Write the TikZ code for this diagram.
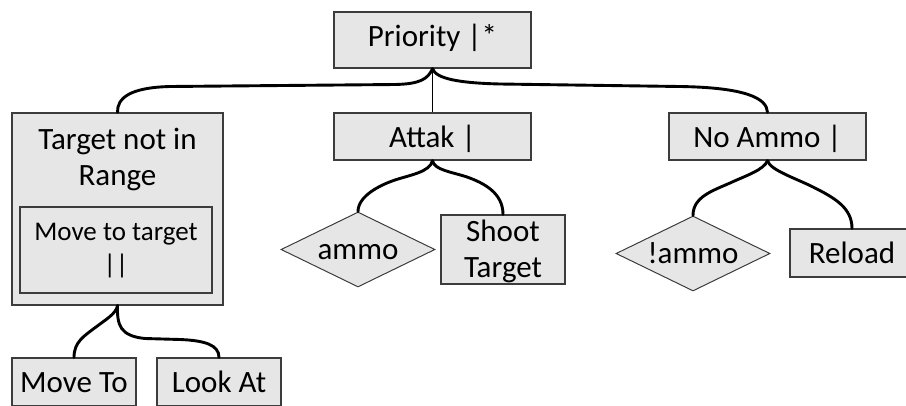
\documentclass[tikz,border=0pt]{standalone}
\usepackage{fontspec}
\setmainfont{Carlito}
\usetikzlibrary{shapes.geometric}
\definecolor{boxgray}{HTML}{E6E6E6}
\definecolor{edgegray}{HTML}{3C3C3C}
\tikzset{
  bigfont/.style={font=\fontsize{31}{36.7}\selectfont},
  smallfont/.style={font=\fontsize{27}{33}\selectfont},
  box/.style={draw=edgegray, line width=1.3pt, fill=boxgray, inner sep=0pt,
    bigfont, text height=20pt, text depth=0pt},
  mbox/.style={draw=edgegray, line width=1.3pt, fill=boxgray, inner sep=0pt},
  dia/.style={diamond, aspect=2, draw=edgegray, line width=1pt, fill=boxgray, inner sep=0pt,
    bigfont, text height=20pt, text depth=0pt,
    minimum width=154pt, minimum height=75pt},
  mtext/.style={align=center, inner sep=0pt},
  conn/.style={line width=2.9pt, line cap=round},
  thinconn/.style={line width=1pt}
}
\begin{document}
\begin{tikzpicture}[x=1pt,y=-1pt]
\useasboundingbox (0,0) rectangle (906,405);
% nodes
\node[box, minimum width=197pt, minimum height=56pt, text depth=8pt] (pri) at (432.5,40) {Priority |*};
\node[box, minimum width=197pt, minimum height=47pt, text height=22.4pt] (att) at (432.5,136.5) {Attak |};
\node[box, minimum width=197pt, minimum height=47pt, text height=22.4pt] (noa) at (767.5,136.5) {No Ammo |};
\node[mbox, minimum width=211pt, minimum height=192pt] (tnr) at (117.5,209) {};
\node[mtext, bigfont] (tnrt) at (117.5,159.5) {Target not in\\Range};
\node[mbox, minimum width=192pt, minimum height=86pt] (mtt) at (116,250) {};
\node[mtext, smallfont] (mttt) at (116,250.5) {Move to target\\||};
\node[dia] (amm) at (358,249.5) {ammo};
\node[mbox, minimum width=124pt, minimum height=69pt] (sht) at (503,249.5) {};
\node[mtext, bigfont] (shtt) at (503,251.5) {Shoot\\Target};
\node[dia] (nam) at (693,253.5) {!ammo};
\node[box, minimum width=124pt, minimum height=48pt] (rld) at (852,253) {Reload};
\node[box, minimum width=124pt, minimum height=48pt] (mvt) at (74,382) {Move To};
\node[box, minimum width=124pt, minimum height=48pt] (lka) at (219,382) {Look At};
% connectors
\draw[thinconn] (pri.south) -- (att.north);
\draw[conn] (pri.south) .. controls (428,79) and (420,84) .. (395,84.5)
  -- (170,86.5) .. controls (130,87.5) and (117,98) .. (tnr.north);
\draw[conn] (pri.south) .. controls (436,79) and (460,83) .. (500,84)
  -- (680,86.5) .. controls (745,87.5) and (767,98) .. (noa.north);
\draw[conn] (att.south) .. controls (430,172) and (410,175) .. (395,180)
  .. controls (380,185) and (358,196) .. (amm.north);
\draw[conn] (att.south) .. controls (434,170) and (452,172) .. (467,177)
  .. controls (484,183) and (503,193) .. (sht.north);
\draw[conn] (noa.south) .. controls (764,170) and (745,176) .. (730,183)
  .. controls (712,191) and (693,197) .. (nam.north);
\draw[conn] (noa.south) .. controls (770,170) and (795,178) .. (813,187)
  .. controls (835,198) and (852,208) .. (rld.north);
\draw[conn] (tnr.south) .. controls (116,314) and (105,320) .. (96,327)
  .. controls (84,336) and (74,342) .. (mvt.north);
\draw[conn] (tnr.south) .. controls (117,325) and (120,336) .. (145,338.5)
  -- (180,339.5) .. controls (205,340.5) and (219,345) .. (lka.north);
\end{tikzpicture}
\end{document}
